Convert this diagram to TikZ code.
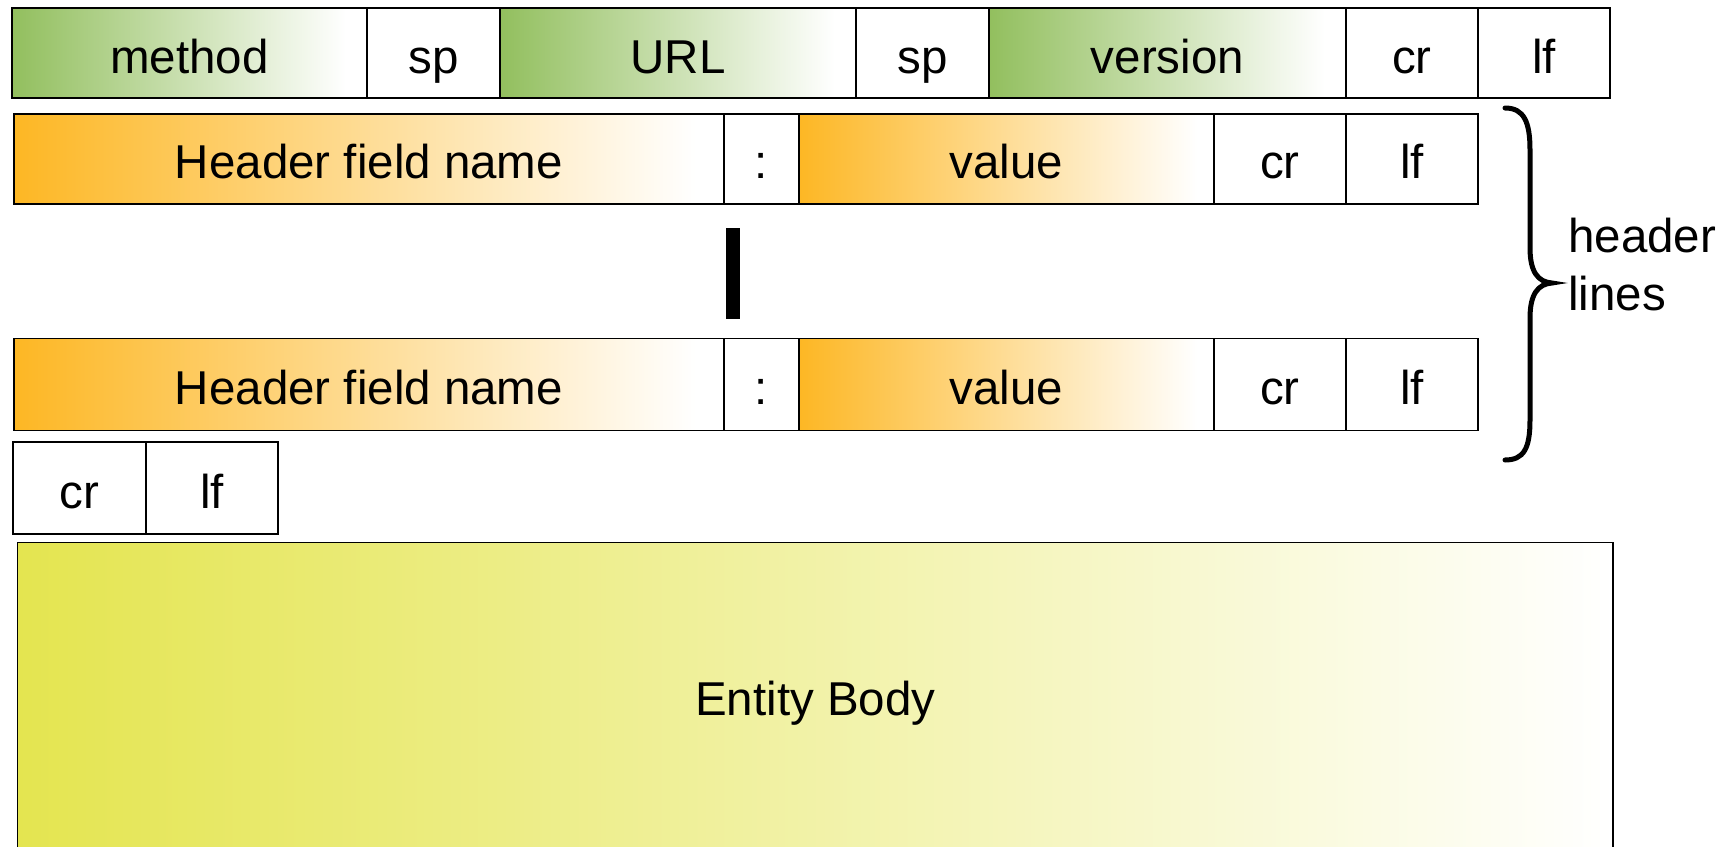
\documentclass[tikz,border=0pt]{standalone}
\usepackage{fontspec}
\setmainfont{Liberation Sans}
\definecolor{fieldgreen}{RGB}{146,191,94}
\definecolor{fieldorange}{RGB}{253,183,36}
\definecolor{bodyyellow}{RGB}{228,229,80}
% fades that reach white a little before the right edge of the box
\pgfdeclarehorizontalshading{greenfade}{100bp}{color(0bp)=(fieldgreen); color(25bp)=(fieldgreen); color(72bp)=(white); color(100bp)=(white)}
\pgfdeclarehorizontalshading{orangefade}{100bp}{color(0bp)=(fieldorange); color(25bp)=(fieldorange); color(73bp)=(white); color(100bp)=(white)}
\begin{document}
\begin{tikzpicture}[x=1pt,y=-1pt,
  field/.style={draw=black, line width=1.6pt, inner sep=0pt, minimum height=90pt,
    text height=40pt, text depth=0pt, font=\fontsize{47.5}{57}\selectfont},
  plainf/.style={field, fill=white},
  greenf/.style={field, shade, shading=greenfade},
  orangef/.style={field, shade, shading=orangefade},
  tall/.style={minimum height=92pt}]
\clip (0,0) rectangle (1729,846);

% request line
\node[greenf, minimum width=355pt] (method) at (189.5,53) {method};
\node[plainf, minimum width=133pt] (sp1) at (433.5,53) {sp};
\node[greenf, minimum width=356pt] (url) at (678,53) {URL};
\node[plainf, minimum width=133pt] (sp2) at (922.5,53) {sp};
\node[greenf, minimum width=357pt] (version) at (1167.5,53) {version};
\node[plainf, minimum width=132pt] (cr1) at (1412,53) {cr};
\node[plainf, minimum width=132pt] (lf1) at (1544,53) {lf};

% first header line
\node[orangef, minimum width=710pt] (name1) at (369,158.75) {Header field name};
\node[plainf, minimum width=75pt] (colon1) at (761.5,158.75) {:};
\node[orangef, minimum width=415pt] (value1) at (1006.5,158.75) {value};
\node[plainf, minimum width=132pt] (cr2) at (1280,158.75) {cr};
\node[plainf, minimum width=132pt] (lf2) at (1412,158.75) {lf};

% more header lines in between
\node[fill=black, inner sep=0pt, minimum width=14pt, minimum height=91pt] (gap) at (733,273.5) {};

% last header line
\node[orangef, tall, minimum width=710pt] (name2) at (369,384.5) {Header field name};
\node[plainf, tall, minimum width=75pt] (colon2) at (761.5,384.5) {:};
\node[orangef, tall, minimum width=415pt] (value2) at (1006.5,384.5) {value};
\node[plainf, tall, minimum width=132pt] (cr3) at (1280,384.5) {cr};
\node[plainf, tall, minimum width=132pt] (lf3) at (1412,384.5) {lf};

% blank line
\node[plainf, tall, minimum width=133pt] (cr4) at (79.5,488) {cr};
\node[plainf, tall, minimum width=132pt] (lf4) at (212,488) {lf};

% body
\node[draw=black, line width=1.6pt, inner sep=0pt, left color=bodyyellow, right color=white,
  minimum width=1595.4pt, minimum height=320pt, anchor=north,
  text height=27pt, text depth=0pt, font=\fontsize{47.5}{57}\selectfont]
  (body) at (815.3,541.5) {Entity Body};

% brace over the header lines
\draw[line width=5pt, line cap=round]
  (1505,108) .. controls (1524,108) and (1530,122) .. (1530,150)
  -- (1530,248) .. controls (1530,272) and (1538,282) .. (1552,283)
  .. controls (1538,284) and (1530,294) .. (1530,318)
  -- (1530,420) .. controls (1530,448) and (1524,460) .. (1505,460);
\node[anchor=north west, inner sep=0pt, align=left, font=\fontsize{47.5}{58}\selectfont]
  (hdrlines) at (1568,218) {header\\lines};
\end{tikzpicture}
\end{document}
